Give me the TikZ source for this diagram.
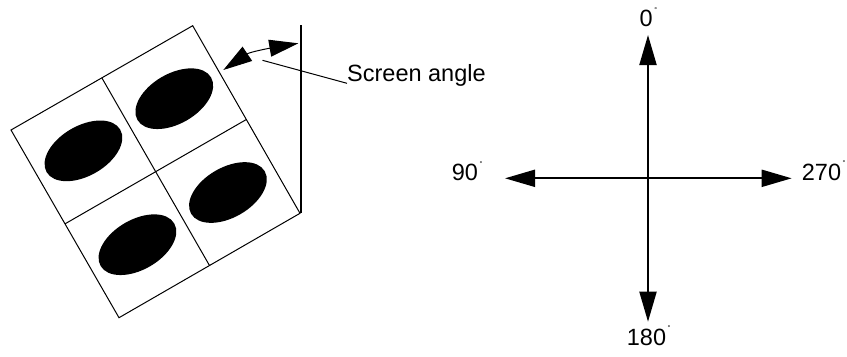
\documentclass[tikz,border=0pt]{standalone}
\usepackage{fontspec}
\setmainfont{Liberation Sans}
\usetikzlibrary{arrows.meta,calc,shapes.geometric}
\newcommand{\degmark}{\hspace{1.5bp}\raisebox{14.5bp}{\fontsize{7bp}{7bp}\selectfont °}}
\tikzset{
  cell/.style={line width=1bp},
  dot/.style={ellipse, fill=black, draw=none, minimum width=85bp, minimum height=50bp, inner sep=0pt, rotate=30},
  lbl/.style={font=\fontsize{23.5bp}{26bp}\selectfont, inner sep=0pt},
  axis/.style={line width=2bp, {Triangle[length=30bp,width=17bp]}-{Triangle[length=30bp,width=17bp]}},
}
\begin{document}
\begin{tikzpicture}[x=1bp,y=-1bp]
\useasboundingbox (0,0) rectangle (847,356);
% rotated screen square
\coordinate (T) at (192.7,25.7);
\coordinate (R) at (300,213.3);
\coordinate (B) at (119,317.7);
\coordinate (L) at (11,130);
\coordinate (C) at ($(T)!0.5!(B)$);
\coordinate (TR) at ($(T)!0.5!(R)$);
\coordinate (RB) at ($(R)!0.5!(B)$);
\coordinate (BL) at ($(B)!0.5!(L)$);
\coordinate (LT) at ($(L)!0.5!(T)$);
\draw[cell] (T) -- (R) -- (B) -- (L) -- cycle;
\draw[cell] (TR) -- (BL);
\draw[cell] (LT) -- (RB);
\node[dot] (e1) at ($(T)!0.5!(C)$) {};
\node[dot] (e2) at ($(L)!0.5!(C)$) {};
\node[dot] (e3) at ($(B)!0.5!(C)$) {};
\node[dot] (e4) at ($(R)!0.5!(C)$) {};
% vertical reference line
\coordinate (V1) at (301,25);
\coordinate (V2) at (301,213.3);
\draw[line width=2bp] (V1) -- (V2);
% curved double arrow
\coordinate (A1) at (223.3,70);
\coordinate (A2) at (298.3,43.3);
\draw[line width=1bp, {Triangle[length=29bp,width=17bp]}-{Triangle[length=29bp,width=17bp]}]
  (A1) .. controls (250,52) and (268,48.5) .. (A2);
% leader and label
\node[lbl, anchor=base west] (sa) at (347,81.7) {Screen angle};
\coordinate (P1) at (262.5,60.3);
\draw[line width=1bp] (P1) -- ($(sa.base west)+(0,1.6)$);
% compass
\coordinate (O) at (648,178.3);
\coordinate (N) at (648,35);
\coordinate (S) at (648,321.7);
\coordinate (W) at (505,178.3);
\coordinate (E) at (791.7,178.3);
\draw[axis] (W) -- (E);
\draw[axis] (N) -- (S);
\node[lbl, anchor=base west] (l0) at (639.5,26.7) {0\degmark};
\node[lbl, anchor=base west] (l90) at (451.7,180.7) {90\degmark};
\node[lbl, anchor=base west] (l270) at (801.7,180.3) {270\degmark};
\node[lbl, anchor=base west] (l180) at (626.7,345) {180\degmark};
\end{tikzpicture}
\end{document}
